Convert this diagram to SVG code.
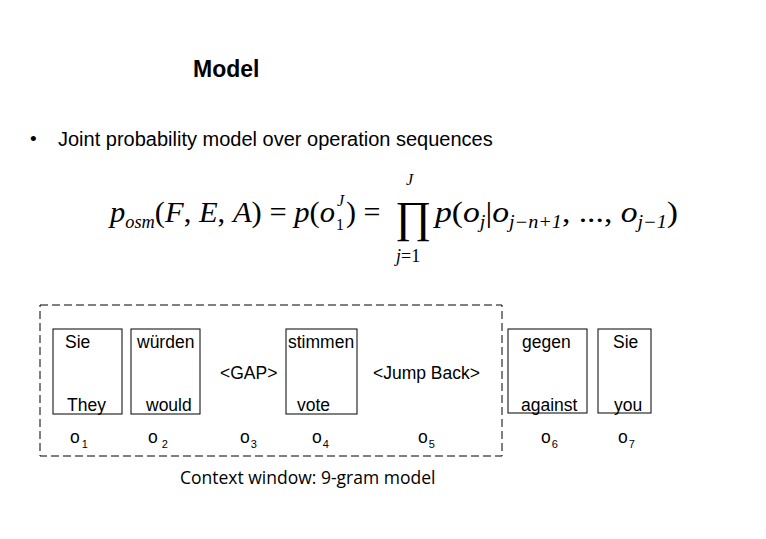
<svg xmlns="http://www.w3.org/2000/svg" width="766" height="539" viewBox="0 0 766 539">
<style>
.t{font-family:"Liberation Sans",Arial,sans-serif;font-size:17.5px;fill:#000}
.m{font-family:"Liberation Serif","Times New Roman",serif;font-style:italic;fill:#000}
.r{font-family:"Liberation Serif","Times New Roman",serif;fill:#000}
.box{fill:#fff;stroke:#000;stroke-width:1}
.sub{font-size:11px}
</style>
<rect width="766" height="539" fill="#fff"/>
<text x="193" y="77" font-family="Liberation Sans,Arial,sans-serif" font-size="23" font-weight="bold">Model</text>
<text x="30" y="145" font-family="Liberation Sans,Arial,sans-serif" font-size="19">•</text>
<text x="58" y="146" font-family="Liberation Sans,Arial,sans-serif" font-size="20">Joint probability model over operation sequences</text>
<g id="formula">
<text x="110" y="222" class="m" font-size="30" textLength="225" lengthAdjust="spacingAndGlyphs">p<tspan font-size="18" dy="6">osm</tspan><tspan dy="-6" font-style="normal">(</tspan>F<tspan font-style="normal">, </tspan>E<tspan font-style="normal">, </tspan>A<tspan font-style="normal">) = </tspan>p<tspan font-style="normal">(</tspan>o</text>
<text x="337" y="206" class="m" font-size="16">J</text>
<text x="336" y="230" class="r" font-size="16">1</text>
<text x="346" y="222" class="r" font-size="30">) =</text>
<text x="395" y="232" class="r" font-size="44">∏</text>
<text x="406" y="185" class="m" font-size="16">J</text>
<text x="396" y="262" class="m" font-size="18">j<tspan font-style="normal">=1</tspan></text>
<text x="435" y="222" class="m" font-size="30" textLength="243" lengthAdjust="spacingAndGlyphs">p<tspan font-style="normal">(</tspan>o<tspan font-size="18" dy="6">j</tspan><tspan dy="-6" font-style="normal">|</tspan>o<tspan font-size="18" dy="6">j−n+1</tspan><tspan dy="-6" font-style="normal">, ..., </tspan>o<tspan font-size="18" dy="6">j−1</tspan><tspan dy="-6" font-style="normal">)</tspan></text>
</g>
<rect x="40" y="305" width="462" height="151" fill="none" stroke="#000" stroke-dasharray="8,4"/>
<g id="n1"><rect class="box" x="53" y="329" width="69" height="85"/><text class="t" x="65" y="348">Sie</text><text class="t" x="67" y="411">They</text></g>
<g id="n2"><rect class="box" x="131" y="329" width="69" height="85"/><text class="t" x="137" y="348">würden</text><text class="t" x="146" y="411">would</text></g>
<g id="n3"><text class="t" x="220" y="379">&lt;GAP&gt;</text></g>
<g id="n4"><rect class="box" x="286" y="329" width="71" height="85"/><text class="t" x="288" y="348">stimmen</text><text class="t" x="297" y="411">vote</text></g>
<g id="n5"><text class="t" x="373" y="379">&lt;Jump Back&gt;</text></g>
<g id="n6"><rect class="box" x="508" y="329" width="79" height="84"/><text class="t" x="522" y="348">gegen</text><text class="t" x="521" y="411">against</text></g>
<g id="n7"><rect class="box" x="598" y="329" width="53" height="84"/><text class="t" x="613" y="348">Sie</text><text class="t" x="614" y="411">you</text></g>
<g id="labels" class="t">
<text x="70" y="443">o<tspan class="sub" dx="2" dy="5">1</tspan></text>
<text x="148" y="443">o<tspan class="sub" dx="4" dy="5">2</tspan></text>
<text x="240" y="443">o<tspan class="sub" dx="1" dy="5">3</tspan></text>
<text x="312" y="443">o<tspan class="sub" dx="1" dy="5">4</tspan></text>
<text x="418" y="443">o<tspan class="sub" dx="1" dy="5">5</tspan></text>
<text x="541" y="443">o<tspan class="sub" dx="1" dy="5">6</tspan></text>
<text x="618" y="443">o<tspan class="sub" dx="1" dy="5">7</tspan></text>
</g>
<g id="connectors"></g>
<text x="180" y="484" font-family="Open Sans,sans-serif" font-size="17.5">Context window: 9-gram model</text>
</svg>
